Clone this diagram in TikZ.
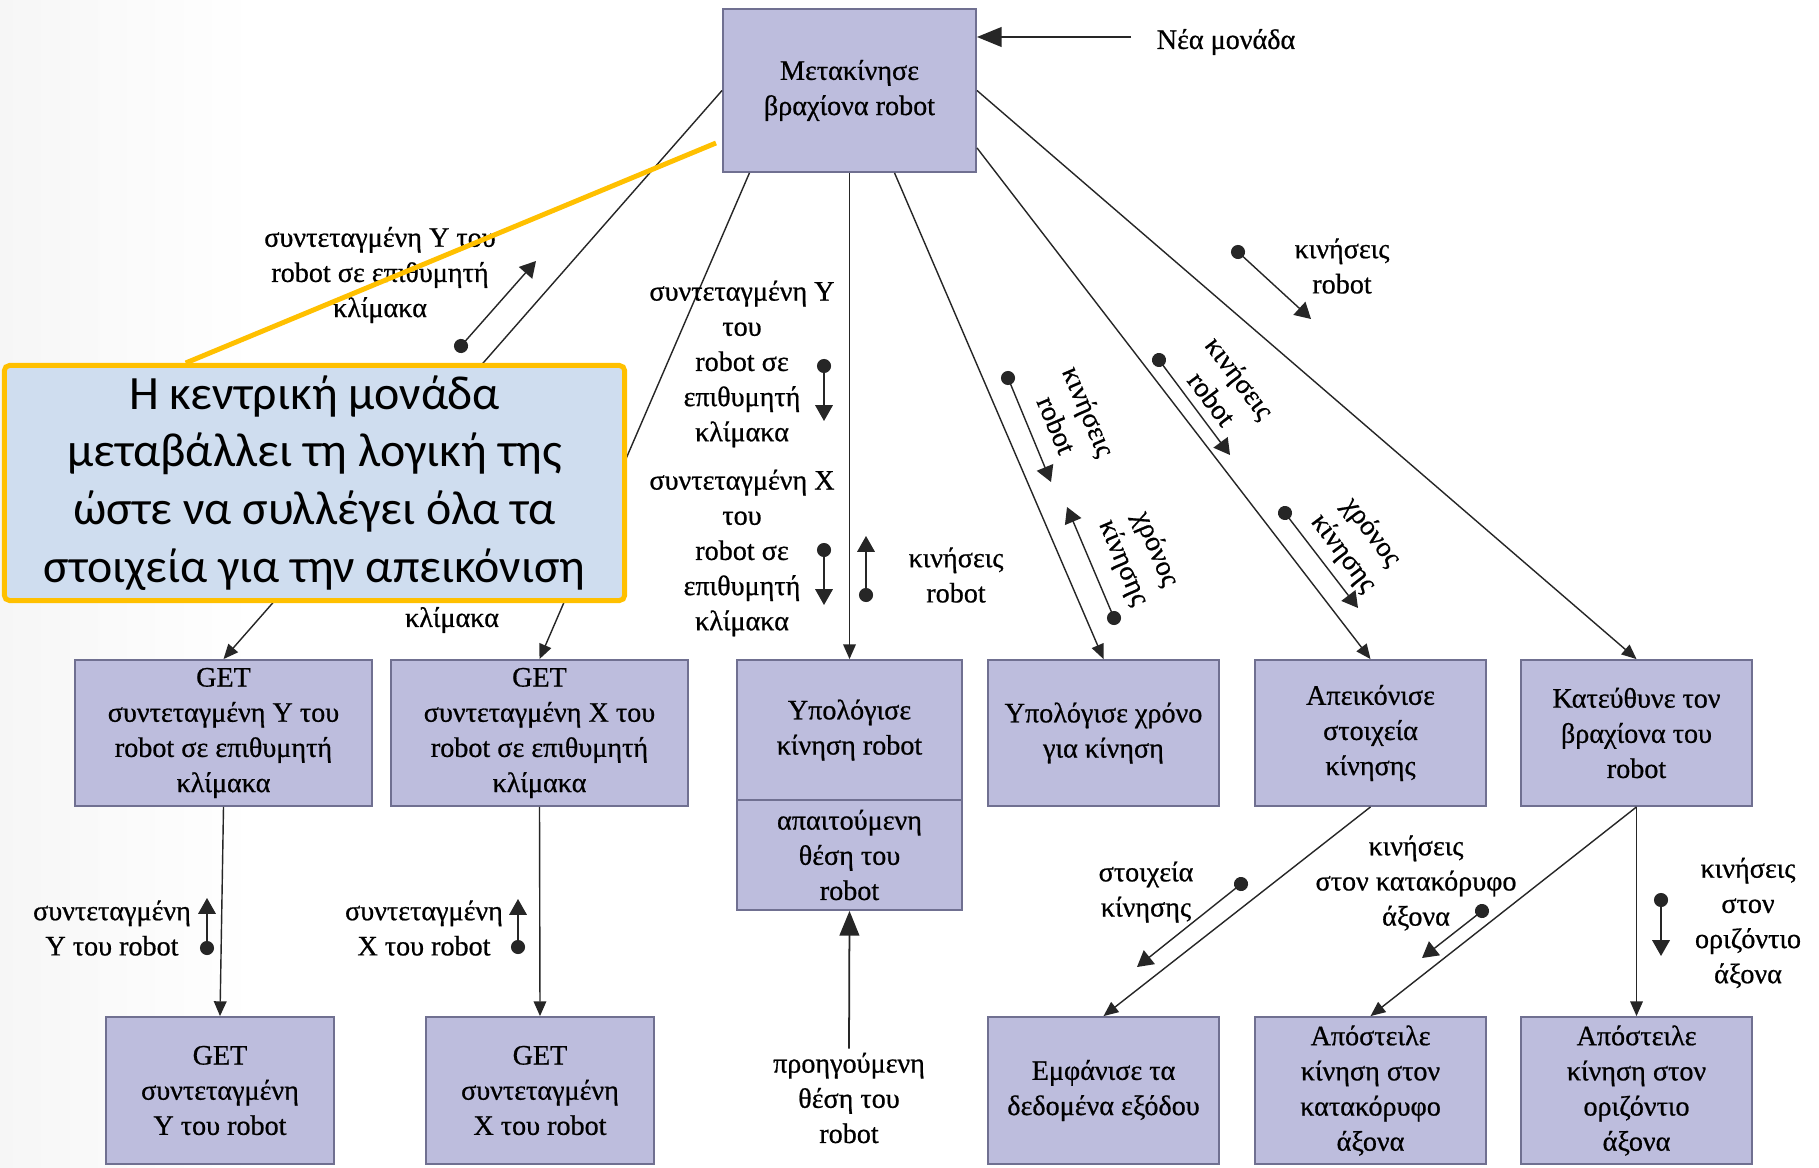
\documentclass[tikz,border=0pt]{standalone}
\usepackage{fontspec}
\setmainfont{Liberation Serif}[FakeBold=0.7]
\newfontfamily\callfont{Carlito}
\usetikzlibrary{arrows.meta,calc}

\definecolor{boxfill}{RGB}{189,189,221}
\definecolor{boxline}{RGB}{112,112,145}
\definecolor{calloutfill}{RGB}{207,221,239}
\definecolor{calloutline}{RGB}{255,192,0}

\pgfdeclarehorizontalshading{slidebg}{100bp}{color(0bp)=(black!16); color(32bp)=(white); color(78bp)=(white); color(100bp)=(black!12)}

\begin{document}
\begin{tikzpicture}[x=0.01cm,y=-0.01cm,
  proc/.style={draw=boxline, fill=boxfill, line width=0.5pt, align=center, inner sep=2pt,
               font=\fontsize{8}{10}\selectfont},
  lbl/.style={align=center, inner sep=1pt, font=\fontsize{8}{10}\selectfont},
  flow/.style={draw=black!85, line width=0.4pt, -{Triangle[length=4.2pt,width=3.6pt]}},
  bigflow/.style={draw=black!85, line width=0.5pt, -{Triangle[length=7pt,width=5.6pt]}},
  couple/.style={draw=black!85, line width=0.4pt,
                 {Circle[length=4pt]}-{Triangle[length=4.5pt,width=5pt]}, shorten <=-2pt},
]
\useasboundingbox (0,0) rectangle (1819,1167);
\shade[shading=slidebg] (0,0) rectangle (1819,1167);

% ---- processes ----
\node[proc, minimum width=2.53cm, minimum height=1.63cm] (top) at (849.5,90.5) {Μετακίνησε\\βραχίονα robot};

\node[proc, minimum width=2.97cm, minimum height=1.46cm] (gy1) at (223.5,733) {GET\\συντεταγμένη Y του\\robot σε επιθυμητή\\κλίμακα};
\node[proc, minimum width=2.97cm, minimum height=1.46cm] (gx1) at (539.5,733) {GET\\συντεταγμένη X του\\robot σε επιθυμητή\\κλίμακα};
\node[proc, minimum width=2.25cm, minimum height=1.40cm] (calcA) at (849.5,730) {Υπολόγισε\\κίνηση robot};
\node[proc, minimum width=2.25cm, minimum height=1.10cm] (calcB) at (849.5,855) {απαιτούμενη\\θέση του\\robot};
\node[proc, minimum width=2.31cm, minimum height=1.46cm] (time) at (1103.5,733) {Υπολόγισε χρόνο\\για κίνηση};
\node[proc, minimum width=2.31cm, minimum height=1.46cm] (disp) at (1370.5,733) {Απεικόνισε\\στοιχεία\\κίνησης};
\node[proc, minimum width=2.31cm, minimum height=1.46cm] (dir) at (1636.5,733) {Κατεύθυνε τον\\βραχίονα του\\robot};

\node[proc, minimum width=2.28cm, minimum height=1.47cm] (gy2) at (220,1090.5) {GET\\συντεταγμένη\\Y του robot};
\node[proc, minimum width=2.28cm, minimum height=1.47cm] (gx2) at (540,1090.5) {GET\\συντεταγμένη\\X του robot};
\node[proc, minimum width=2.31cm, minimum height=1.47cm] (show) at (1103.5,1090.5) {Εμφάνισε τα\\δεδομένα εξόδου};
\node[proc, minimum width=2.31cm, minimum height=1.47cm] (sendv) at (1370.5,1090.5) {Απόστειλε\\κίνηση στον\\κατακόρυφο\\άξονα};
\node[proc, minimum width=2.31cm, minimum height=1.47cm] (sendh) at (1636.5,1090.5) {Απόστειλε\\κίνηση στον\\οριζόντιο\\άξονα};

% ---- calls ----
\draw[flow] (top.west) -- (gy1.north);
\draw[flow] ([xshift=-1cm]top.south) -- (gx1.north);
\draw[flow] (top.south) -- (calcA.north);
\draw[flow] ([xshift=0.45cm]top.south) -- (time.north);
\draw[flow] ([yshift=0.25cm]top.south east) -- (disp.north);
\draw[flow] (top.east) -- (dir.north);
\draw[flow] (gy1.south) -- (gy2.north);
\draw[flow] (gx1.south) -- (gx2.north);
\draw[flow] (disp.south) -- (show.north);
\draw[flow] (dir.south) -- (sendv.north);
\draw[flow] (dir.south) -- (sendh.north);

% ---- external inputs ----
\node[lbl] (nea) at (1226,42) {Νέα μονάδα};
\coordinate (neain) at (1131,37);
\draw[bigflow] (neain) -- (neain -| top.east);
\node[lbl] (prev) at (849,1098) {προηγούμενη\\θέση του\\robot};
\draw[bigflow] (prev.north) -- (calcB.south);

% ---- data couples ----
\coordinate (c1a) at (461,346);   \coordinate (c1b) at (536,261);
\coordinate (c3a) at (824,366);   \coordinate (c3b) at (824,421);
\coordinate (c4a) at (824,550);   \coordinate (c4b) at (824,605);
\coordinate (c5a) at (866,595);   \coordinate (c5b) at (866,536);
\coordinate (c6a) at (1008,378);  \coordinate (c6b) at (1051,482);
\coordinate (c7a) at (1114,618);  \coordinate (c7b) at (1067,507);
\coordinate (c8a) at (1159,360);  \coordinate (c8b) at (1230,455);
\coordinate (c9a) at (1285,513);  \coordinate (c9b) at (1358,608);
\coordinate (c10a) at (1238,252); \coordinate (c10b) at (1311,319);
\coordinate (c11a) at (207,948);  \coordinate (c11b) at (207,898);
\coordinate (c12a) at (518,947);  \coordinate (c12b) at (518,899);
\coordinate (c13a) at (1241,884); \coordinate (c13b) at (1137,967);
\coordinate (c14a) at (1482,911); \coordinate (c14b) at (1422,958);
\coordinate (c15a) at (1661,900); \coordinate (c15b) at (1661,956);

\foreach \c in {1,3,4,5,6,7,8,9,10,11,12,13,14,15}
  \draw[couple] (c\c a) -- (c\c b);

\node[lbl] (l1) at (380,275) {συντεταγμένη Y του\\robot σε επιθυμητή\\κλίμακα};
\node[lbl] (l2) at (452,620) {κλίμακα};
\node[lbl] (l3) at (742,364) {συντεταγμένη Y\\του\\robot σε\\επιθυμητή\\κλίμακα};
\node[lbl] (l4) at (742,553) {συντεταγμένη X\\του\\robot σε\\επιθυμητή\\κλίμακα};
\node[lbl] (l5) at (956,575) {κινήσεις\\robot};
\node[lbl, rotate=-67] (l6) at (1073,418) {κινήσεις\\robot};
\node[lbl, rotate=-67] (l7) at (1139,556) {χρόνος\\κίνησης};
\node[lbl, rotate=-53] (l8) at (1226,388) {κινήσεις\\robot};
\node[lbl, rotate=-53] (l9) at (1357,543) {χρόνος\\κίνησης};
\node[lbl] (l10) at (1342,266) {κινήσεις\\robot};
\node[lbl] (l11) at (112,928) {συντεταγμένη\\Y του robot};
\node[lbl] (l12) at (424,928) {συντεταγμένη\\X του robot};
\node[lbl] (l13) at (1146,892) {στοιχεία\\κίνησης};
\node[lbl] (l14) at (1416,883) {κινήσεις\\στον κατακόρυφο\\άξονα};
\node[lbl] (l15) at (1748,923) {κινήσεις\\στον\\οριζόντιο\\άξονα};

% ---- callout ----
\node[draw=calloutline, fill=calloutfill, line width=1.4pt, rounded corners=1.5pt,
      minimum width=6.20cm, minimum height=2.35cm, align=center, inner sep=0pt,
      font=\callfont\fontsize{13.6}{16.4}\selectfont] (call) at (314.5,483)
  {Η κεντρική μονάδα\\μεταβάλλει τη λογική της\\ώστε να συλλέγει όλα τα\\στοιχεία για την απεικόνιση};
\coordinate (callpt) at (716,143);
\draw[calloutline, line width=1.4pt] (callpt) -- ($(call.north west)!0.294!(call.north east)$);
\end{tikzpicture}
\end{document}
